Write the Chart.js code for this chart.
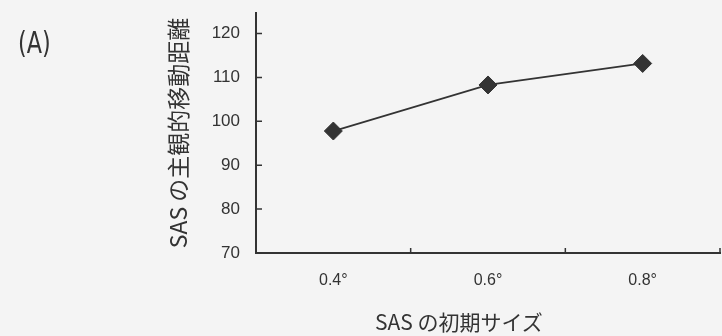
<!DOCTYPE html>
<html>
<head>
<meta charset="utf-8">
<script src="https://cdn.jsdelivr.net/npm/chart.js@4/dist/chart.umd.min.js"></script>
<style>
  html, body { margin: 0; padding: 0; background: #f4f4f4; }
  #wrap { position: relative; width: 722px; height: 336px; }
  canvas { position: absolute; left: 0; top: 0; }
  .lbl { position: absolute; color: #333; white-space: nowrap; line-height: 1; }
  #panel { left: 18px; top: 24px; font: 31px "DejaVu Sans", sans-serif; transform: scaleX(0.72); transform-origin: left top; }
  #xtitle { left: 375px; top: 306px; font: 21px "Noto Sans CJK JP", sans-serif; }
</style>
</head>
<body>
<div id="wrap">
  <canvas id="c" width="722" height="336"></canvas>
  <div class="lbl" id="panel">(A)</div>
  <div class="lbl" id="xtitle">SAS の初期サイズ</div>
</div>
<script>
// Initial SAS size (deg) vs. perceived displacement
const sizes = ['0.4°', '0.6°', '0.8°'];
const perceivedDistance = [97.8, 108.3, 113.2];
const yTicks = [70, 80, 90, 100, 110, 120];

const ink = '#333333';

// Short tick marks drawn on the inside of both axes
const innerTicks = {
  id: 'innerTicks',
  afterDraw(chart) {
    const { ctx, chartArea, scales } = chart;
    const x = scales.x, y = scales.y;
    ctx.save();
    ctx.strokeStyle = ink;
    ctx.lineWidth = 1.5;
    ctx.beginPath();
    y.ticks.forEach(t => {
      const py = y.getPixelForValue(t.value);
      ctx.moveTo(chartArea.left, py);
      ctx.lineTo(chartArea.left + 6, py);
    });
    for (let i = 0; i < sizes.length; i++) {
      const px = (x.getPixelForValue(i) + x.getPixelForValue(i + 1)) / 2;
      ctx.moveTo(px, chartArea.bottom);
      ctx.lineTo(px, chartArea.bottom - 5);
    }
    ctx.stroke();
    ctx.restore();
  }
};

new Chart(document.getElementById('c'), {
  type: 'line',
  data: {
    labels: sizes,
    datasets: [{
      data: perceivedDistance,
      borderColor: ink,
      borderWidth: 1.8,
      pointStyle: 'rectRot',
      pointRadius: 9,
      pointBackgroundColor: ink,
      pointBorderColor: ink,
      pointBorderWidth: 1,
      tension: 0,
      clip: false
    }]
  },
  options: {
    responsive: false,
    animation: false,
    events: [],
    layout: { autoPadding: false, padding: { top: 13, right: 2, left: 0, bottom: 0 } },
    plugins: { legend: { display: false }, tooltip: { enabled: false } },
    scales: {
      x: {
        type: 'category',
        offset: true,
        grid: { display: false, drawTicks: false },
        border: { display: true, color: ink, width: 2 },
        ticks: { color: ink, padding: 18, font: { family: 'Liberation Sans', size: 16 } },
        afterFit(s) { s.height = 83; s.paddingLeft = 0; s.paddingRight = 0; }
      },
      y: {
        min: 70,
        max: 124.7,
        afterBuildTicks(s) { s.ticks = yTicks.map(v => ({ value: v })); },
        grid: { display: false, drawTicks: false },
        border: { display: true, color: ink, width: 2 },
        ticks: { color: ink, padding: 16, font: { family: 'Liberation Sans', size: 17 } },
        title: {
          display: true,
          text: 'SAS の主観的移動距離',
          color: ink,
          font: { family: 'Noto Sans CJK JP', size: 23 },
          padding: { top: 164, bottom: 0 }
        },
        afterFit(s) { s.width = 256; s.paddingTop = 0; s.paddingBottom = 0; }
      }
    }
  },
  plugins: [innerTicks]
});
</script>
</body>
</html>
